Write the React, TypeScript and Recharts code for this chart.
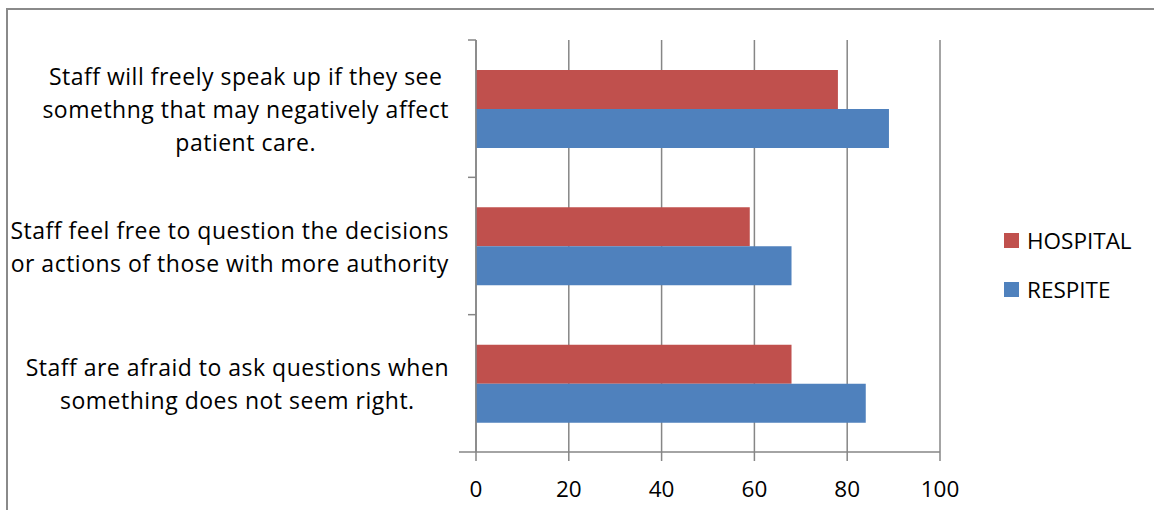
import React from "react";
import {
  BarChart, Bar, XAxis, YAxis, CartesianGrid,
} from "recharts";

const categories = [
  "Staff will freely speak up if they see\nsomethng that may negatively affect\npatient care.",
  "Staff feel free to question the decisions\nor actions of those with more authority",
  "Staff are afraid to ask questions when\nsomething does not seem right.",
];
const hospital = [78, 59, 68];
const respite = [89, 68, 84];
const xTicks = [0, 20, 40, 60, 80, 100];

const FONT = "'Open Sans', 'Liberation Sans', sans-serif";
const LABEL_SIZE = 23;
const LABEL_SPACING = 0.5;
const AXIS = "#868686";
const RED = "#C0504D";
const BLUE = "#4F81BD";

const chartData = categories.map((c, i) => ({
  label: c,
  HOSPITAL: hospital[i],
  RESPITE: respite[i],
}));

let ctx: CanvasRenderingContext2D | null = null;
function measure(s: string) {
  if (!ctx) ctx = document.createElement("canvas").getContext("2d");
  if (!ctx) return s.length * 11;
  ctx.font = `${LABEL_SIZE}px ${FONT}`;
  return ctx.measureText(s).width + s.length * LABEL_SPACING;
}

function CategoryTick(props: any) {
  const { x, y, payload, index, visibleTicksCount } = props;
  const ax = x + 8; // axis line sits tickSize + tickMargin to the right
  const lines: string[] = String(payload.value).split("\n");
  const half = payload.offset ?? 68.5;
  const widest = Math.max(...lines.map(measure));
  const cx = ax - 27 - widest / 2;
  const lh = 33;
  const start = y + 1.5 - ((lines.length - 1) * lh) / 2;
  return (
    <g>
      <line x1={ax - 8} x2={ax} y1={y - half} y2={y - half} stroke={AXIS} strokeWidth={1.5} />
      {index === visibleTicksCount - 1 && (
        <line x1={ax - 17} x2={ax} y1={y + half} y2={y + half} stroke={AXIS} strokeWidth={1.5} />
      )}
      <text textAnchor="middle" fontFamily={FONT} fontSize={LABEL_SIZE} letterSpacing={LABEL_SPACING} fill="#000">
        {lines.map((l, i) => (
          <tspan key={i} x={cx} y={start + i * lh} dy="0.35em">{l}</tspan>
        ))}
      </text>
    </g>
  );
}

const legendItems = [
  { name: "HOSPITAL", color: RED },
  { name: "RESPITE", color: BLUE },
];

export default function App() {
  return (
    <div style={{ position: "fixed", left: 0, top: 0, width: 1154, height: 510, overflow: "hidden", background: "#fff" }}>
      <div style={{ position: "absolute", left: 6, top: 8, width: 1200, height: 600, border: "2px solid #8a8a8a" }} />
      <BarChart
        width={1154}
        height={510}
        data={chartData}
        layout="vertical"
        margin={{ top: 40, right: 214, bottom: 0, left: 0 }}
        barGap={0}
        barSize={39}
      >
        <CartesianGrid horizontal={false} stroke={AXIS} strokeWidth={1.5} />
        <XAxis
          type="number"
          domain={[0, 100]}
          ticks={xTicks}
          interval={0}
          height={58}
          tickSize={9}
          tickMargin={20}
          stroke={AXIS}
          strokeWidth={1.5}
          tick={{ fontFamily: FONT, fontSize: 22.5, fill: "#000" }}
        />
        <YAxis
          type="category"
          dataKey="label"
          width={476}
          tickLine={false}
          stroke={AXIS}
          strokeWidth={1.5}
          tick={<CategoryTick />}
          interval={0}
        />
        <Bar dataKey="HOSPITAL" fill={RED} isAnimationActive={false} />
        <Bar dataKey="RESPITE" fill={BLUE} isAnimationActive={false} />
      </BarChart>
      <div style={{ position: "absolute", left: 1004, top: 216, fontFamily: FONT, fontSize: 22.5, color: "#000" }}>
        {legendItems.map((it) => (
          <div key={it.name} style={{ display: "flex", alignItems: "center", height: 49 }}>
            <span style={{ width: 15, height: 15, background: it.color, marginRight: 8 }} />
            <span>{it.name}</span>
          </div>
        ))}
      </div>
    </div>
  );
}
